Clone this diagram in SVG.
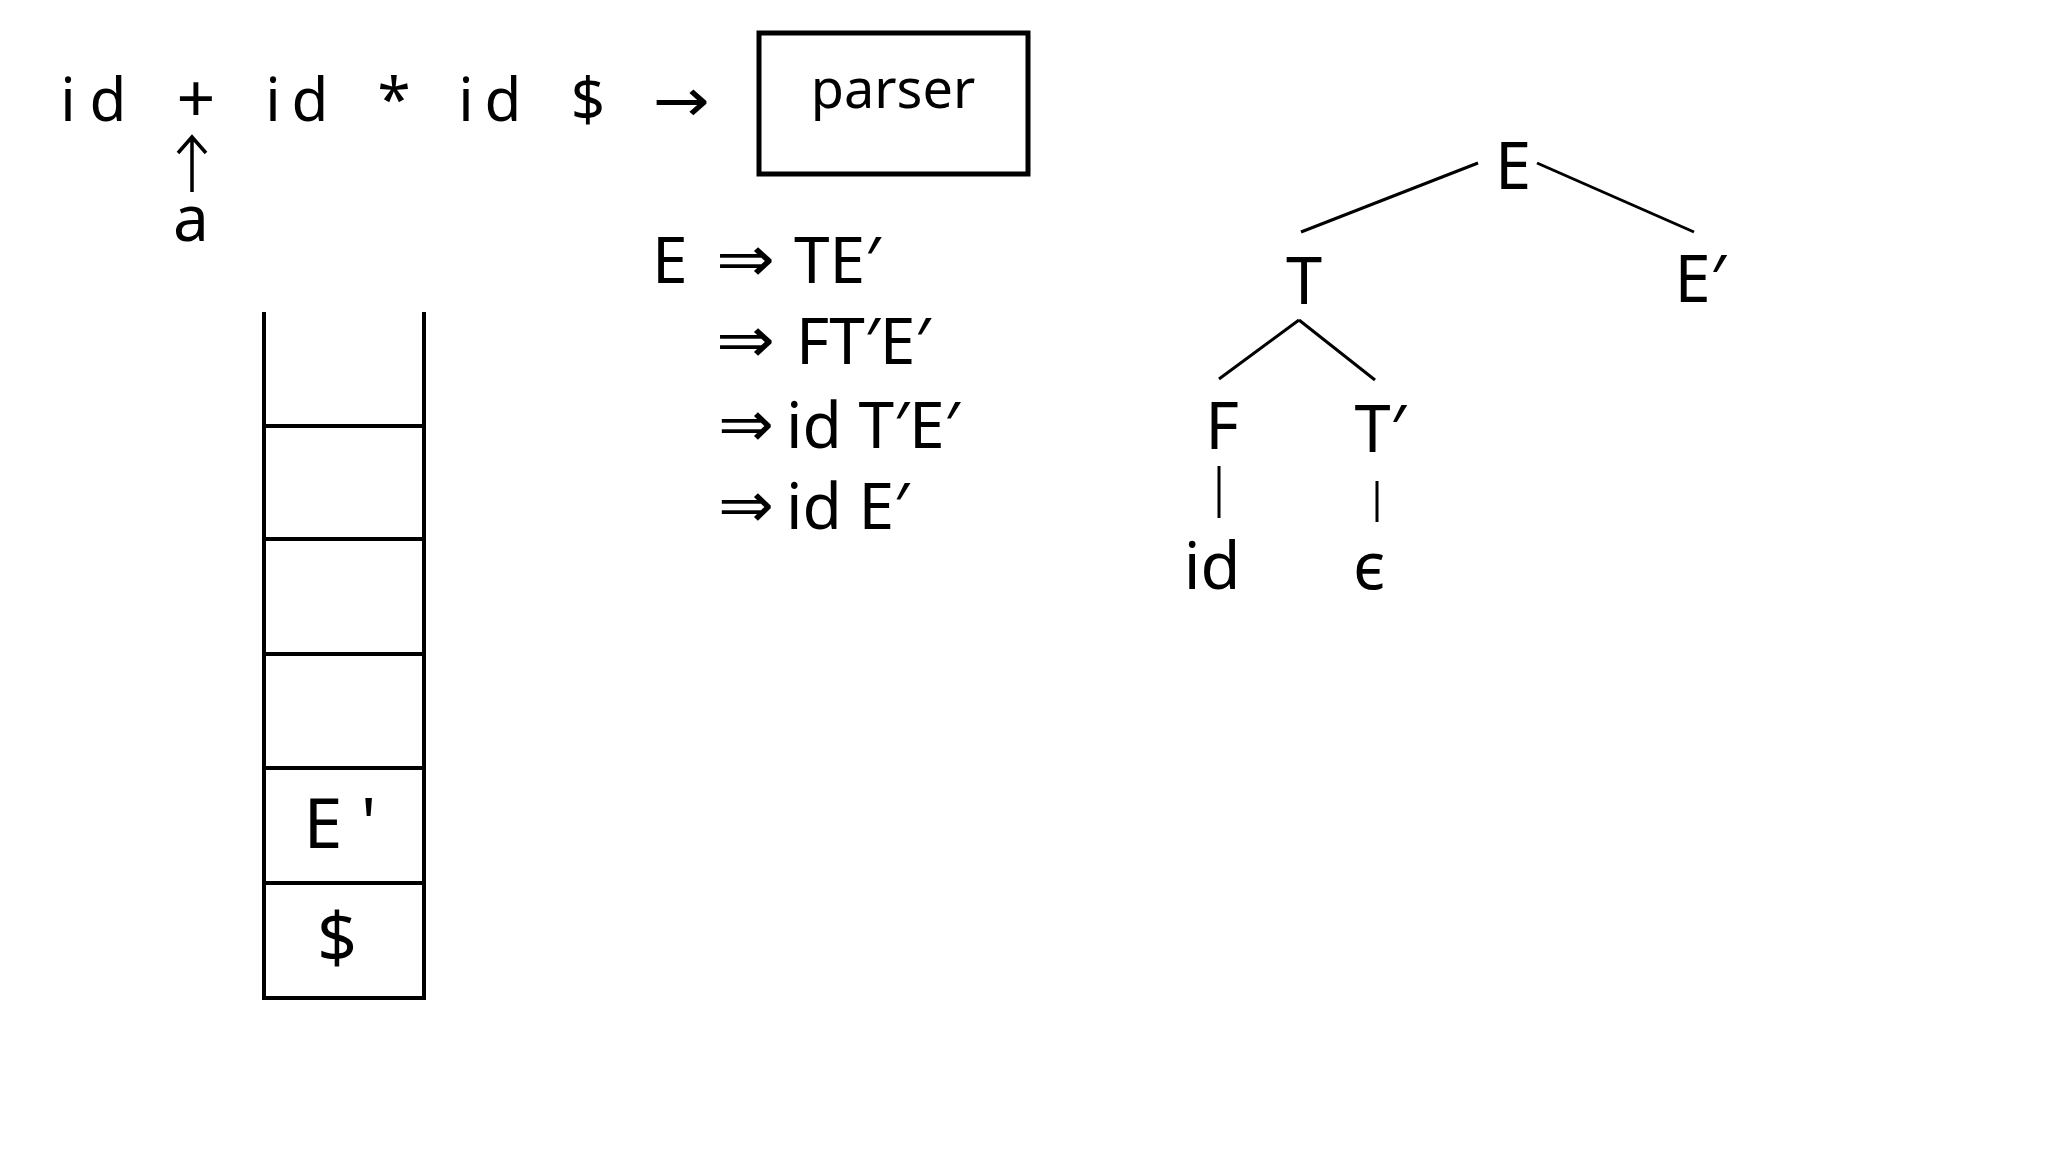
<svg xmlns="http://www.w3.org/2000/svg" width="2048" height="1152" viewBox="0 0 2048 1152">
<style>
text{font-family:"Noto Sans","Open Sans","DejaVu Sans",sans-serif;fill:#000}
.big{font-size:60px}
.der{font-size:64px}
.tree{font-size:65px;text-anchor:middle}
.ln{stroke:#000;stroke-width:3;fill:none}
.stk{stroke:#000;stroke-width:4;fill:none}
</style>
<rect width="2048" height="1152" fill="#fff"/>
<g id="input">
<text class="big" text-anchor="middle" x="68 108" y="121">id</text>
<text font-size="68" text-anchor="middle" x="196" y="123">+</text>
<text class="big" text-anchor="middle" x="273 310 394 466 503 588" y="121">id*id$</text>
<text class="big" x="653" y="121" textLength="57" lengthAdjust="spacingAndGlyphs">→</text>
<path d="M192 192 V138 M178 153 L192 137 L206 153" stroke="#000" stroke-width="3.5" fill="none"/>
<text font-size="64" text-anchor="middle" x="191" y="241">a</text>
</g>
<g id="parser">
<rect x="759" y="33" width="269" height="141" fill="none" stroke="#000" stroke-width="5"/>
<text x="893" y="108" font-size="54" text-anchor="middle">parser</text>
</g>
<g id="derivation" class="der">
<text x="652" y="283">E</text>
<text x="716" y="281" textLength="59" lengthAdjust="spacingAndGlyphs">⇒</text>
<text x="794" y="283">TE′</text>
<text x="716" y="362" textLength="59" lengthAdjust="spacingAndGlyphs">⇒</text>
<text x="796" y="364">FT′E′</text>
<text x="718" y="446" textLength="56" lengthAdjust="spacingAndGlyphs">⇒</text>
<text x="786" y="448">id T′E′</text>
<text x="718" y="527" textLength="56" lengthAdjust="spacingAndGlyphs">⇒</text>
<text x="786" y="529">id E′</text>
</g>
<g id="stack">
<path class="stk" d="M264 312 V998 H424 V312"/>
<path class="stk" d="M264 426 H424 M264 539 H424 M264 654 H424 M264 768 H424 M264 883 H424"/>
<text x="340" y="848" font-size="70" text-anchor="middle">E '</text>
<text x="337" y="962" font-size="70" text-anchor="middle">$</text>
</g>
<g id="node-E"><text class="tree" x="1513" y="189">E</text></g>
<g id="node-T"><text class="tree" x="1304" y="304">T</text></g>
<g id="node-Ep"><text class="tree" x="1700" y="302">E′</text></g>
<g id="node-F"><text class="tree" x="1222" y="449">F</text></g>
<g id="node-Tp"><text class="tree" x="1380" y="452">T′</text></g>
<g id="node-id"><text class="tree" x="1212" y="589">id</text></g>
<g id="node-eps"><text class="tree" x="1369" y="589">ϵ</text></g>
<g id="connectors">
<line class="ln" x1="1478" y1="163" x2="1301" y2="232"/>
<line class="ln" x1="1537" y1="163" x2="1694" y2="232"/>
<line class="ln" x1="1299" y1="320" x2="1219" y2="379"/>
<line class="ln" x1="1299" y1="320" x2="1375" y2="380"/>
<line class="ln" x1="1219" y1="466" x2="1219" y2="518"/>
<line class="ln" x1="1377" y1="481" x2="1377" y2="522"/>
</g>
</svg>
